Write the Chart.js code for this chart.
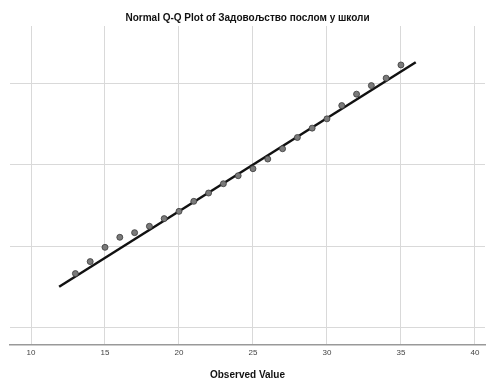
<!DOCTYPE html>
<html>
<head>
<meta charset="utf-8">
<script src="https://cdn.jsdelivr.net/npm/chart.js@4.4.1/dist/chart.umd.min.js"></script>
<style>
html,body{margin:0;padding:0;background:#fff;}
#wrap{width:486px;height:381px;}
</style>
</head>
<body>
<div id="wrap"><canvas id="c" width="486" height="381"></canvas></div>
<script>
// Observed values (x) and expected normal values (z)
const observed = [13,14,15,16,17,18,19,20,21,22,23,24,25,26,27,28,29,30,31,32,33,34,35];
const expectedNormal = [-1.335,-1.188,-1.013,-0.890,-0.833,-0.755,-0.661,-0.572,-0.449,-0.347,-0.233,-0.135,-0.049,0.070,0.196,0.334,0.449,0.563,0.726,0.866,0.971,1.062,1.224];
// Reference line endpoints
const lineX = [11.9, 36.0];
const lineY = [-1.497, 1.257];
const xTicks = [10,15,20,25,30,35,40];
const yTicks = [-2,-1,0,1];

const pts = observed.map((x,i)=>({x:x,y:expectedNormal[i]}));
const linePts = lineX.map((x,i)=>({x:x,y:lineY[i]}));

new Chart(document.getElementById('c'), {
  type: 'scatter',
  data: {
    datasets: [
      {
        data: linePts,
        showLine: true,
        borderColor: '#111',
        borderWidth: 2.5,
        pointRadius: 0,
        fill: false,
        order: 2
      },
      {
        data: pts,
        backgroundColor: '#7a7a7a',
        borderColor: '#3a3a3a',
        borderWidth: 0.8,
        pointRadius: 3,
        order: 1
      }
    ]
  },
  options: {
    responsive: false,
    animation: false,
    layout: {autoPadding: false, padding: {left: 10, right: 1, top: 0, bottom: 0}},
    plugins: {
      legend: {display: false},
      tooltip: {enabled: false},
      title: {
        display: true,
        text: 'Normal Q-Q Plot of Задовољство послом у школи',
        color: '#111',
        font: {family: 'Liberation Sans, Arial, sans-serif', size: 10, weight: 'bold'},
        padding: {top: 12, bottom: 2}
      }
    },
    scales: {
      x: {
        type: 'linear',
        min: 8.58,
        max: 40.68,
        afterBuildTicks: (ax) => { ax.ticks = xTicks.map(v=>({value:v})); },
        afterFit: (s) => { s.paddingRight = 0; s.paddingLeft = 0; },
        grid: {color: '#d9d9d9', lineWidth: 1, drawTicks: false},
        border: {display: true, color: '#999', width: 1.5},
        ticks: {
          color: '#444',
          font: {family: 'Liberation Sans, Arial, sans-serif', size: 8},
          padding: 4,
          maxRotation: 0,
          autoSkip: false
        },
        title: {
          display: true,
          text: 'Observed Value',
          color: '#111',
          font: {family: 'Liberation Sans, Arial, sans-serif', size: 10, weight: 'bold'},
          padding: {top: 7, bottom: 0}
        }
      },
      y: {
        type: 'linear',
        min: -2.204,
        max: 1.702,
        afterBuildTicks: (ax) => { ax.ticks = yTicks.map(v=>({value:v})); },
        grid: {color: '#d9d9d9', lineWidth: 1, drawTicks: false},
        border: {display: false},
        ticks: {display: false}
      }
    }
  }
});
</script>
</body>
</html>
